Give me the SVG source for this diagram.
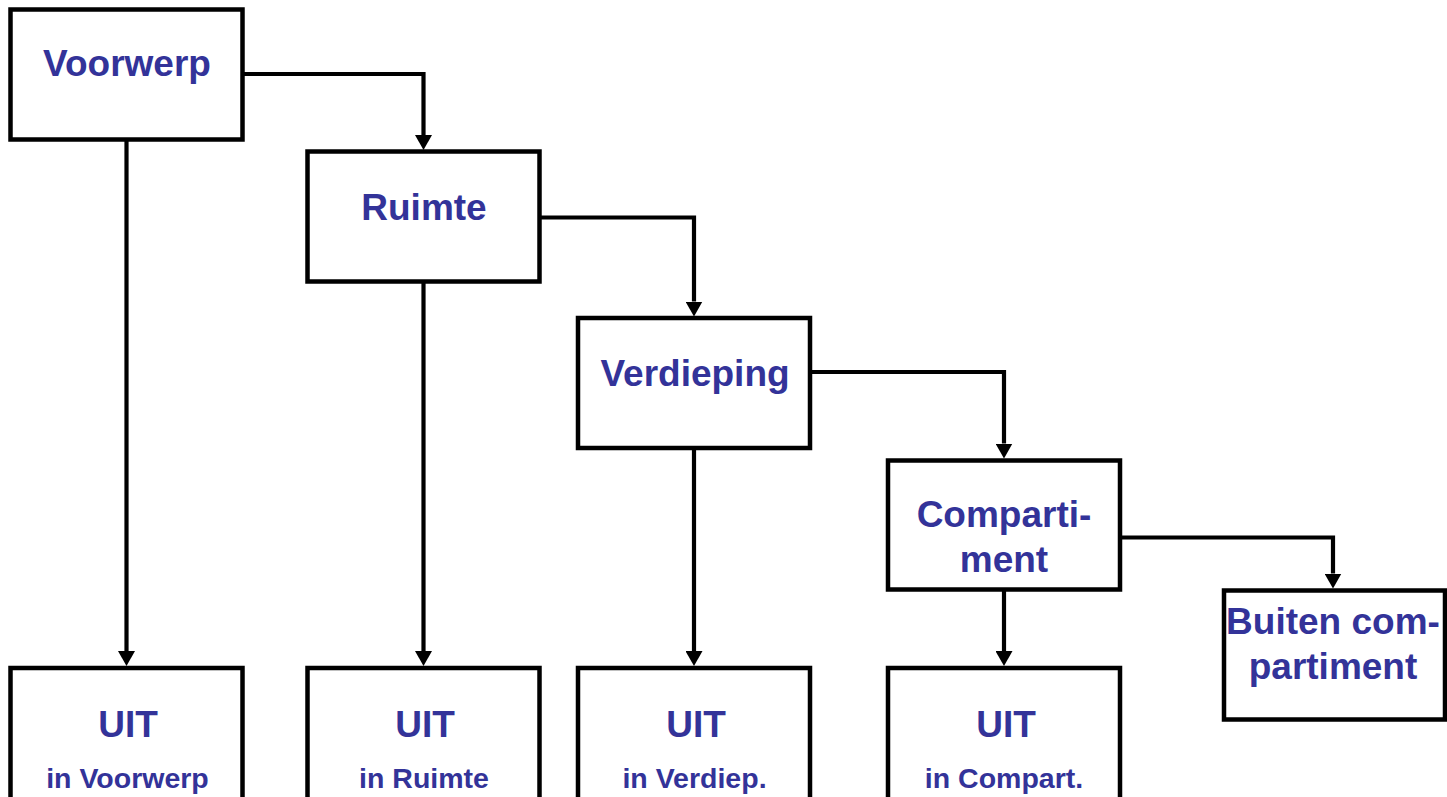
<svg xmlns="http://www.w3.org/2000/svg" width="1447" height="797" viewBox="0 0 1447 797">
<style>
.box{fill:#fff;stroke:#000;stroke-width:4.5}
.conn{fill:none;stroke:#000;stroke-width:4.2}
.t{font-family:"Liberation Sans",Arial,sans-serif;font-weight:bold;fill:#333399;text-anchor:middle;font-size:37px}
.s{font-size:28.5px}
</style>
<defs>
<marker id="ah" markerUnits="userSpaceOnUse" markerWidth="15" markerHeight="17" viewBox="0 0 15 17" refX="0" refY="8.5" orient="auto">
<path d="M0,0 L15,8.5 L0,17 z" fill="#000"/>
</marker>
</defs>
<rect width="1447" height="797" fill="#fff"/>
<g id="connectors">
<path class="conn" marker-end="url(#ah)" d="M242.5,74 H423.5 V135"/>
<path class="conn" marker-end="url(#ah)" d="M539.5,217.5 H694 V301.5"/>
<path class="conn" marker-end="url(#ah)" d="M810,372 H1004 V443.5"/>
<path class="conn" marker-end="url(#ah)" d="M1120,537.5 H1333 V573.5"/>
<path class="conn" marker-end="url(#ah)" d="M126.5,139.5 V651"/>
<path class="conn" marker-end="url(#ah)" d="M423.5,281.5 V651"/>
<path class="conn" marker-end="url(#ah)" d="M694,448 V651"/>
<path class="conn" marker-end="url(#ah)" d="M1004,589.5 V651"/>
</g>
<g id="voorwerp">
<rect class="box" x="10.5" y="9.5" width="232" height="130"/>
<text class="t" x="127" y="76">Voorwerp</text>
</g>
<g id="ruimte">
<rect class="box" x="307.5" y="151.5" width="232" height="130"/>
<text class="t" x="424" y="220">Ruimte</text>
</g>
<g id="verdieping">
<rect class="box" x="578" y="318" width="232" height="130"/>
<text class="t" x="695" y="386">Verdieping</text>
</g>
<g id="compartiment">
<rect class="box" x="888" y="460.5" width="232" height="129"/>
<text class="t" x="1004" y="527">Comparti-</text>
<text class="t" x="1004" y="572">ment</text>
</g>
<g id="buiten">
<rect class="box" x="1224" y="590.5" width="221" height="129"/>
<text class="t" x="1333" y="634">Buiten com-</text>
<text class="t" x="1333" y="679">partiment</text>
</g>
<g id="uit-voorwerp">
<rect class="box" x="10.5" y="668" width="232" height="140"/>
<text class="t" x="128" y="737">UIT</text>
<text class="t s" x="127.5" y="788">in Voorwerp</text>
</g>
<g id="uit-ruimte">
<rect class="box" x="307.5" y="668" width="232" height="140"/>
<text class="t" x="425" y="737">UIT</text>
<text class="t s" x="424" y="788">in Ruimte</text>
</g>
<g id="uit-verdieping">
<rect class="box" x="578" y="668" width="232" height="140"/>
<text class="t" x="696" y="737">UIT</text>
<text class="t s" x="694.5" y="788">in Verdiep.</text>
</g>
<g id="uit-compartiment">
<rect class="box" x="888" y="668" width="232" height="140"/>
<text class="t" x="1006" y="737">UIT</text>
<text class="t s" x="1004" y="788">in Compart.</text>
</g>
</svg>
